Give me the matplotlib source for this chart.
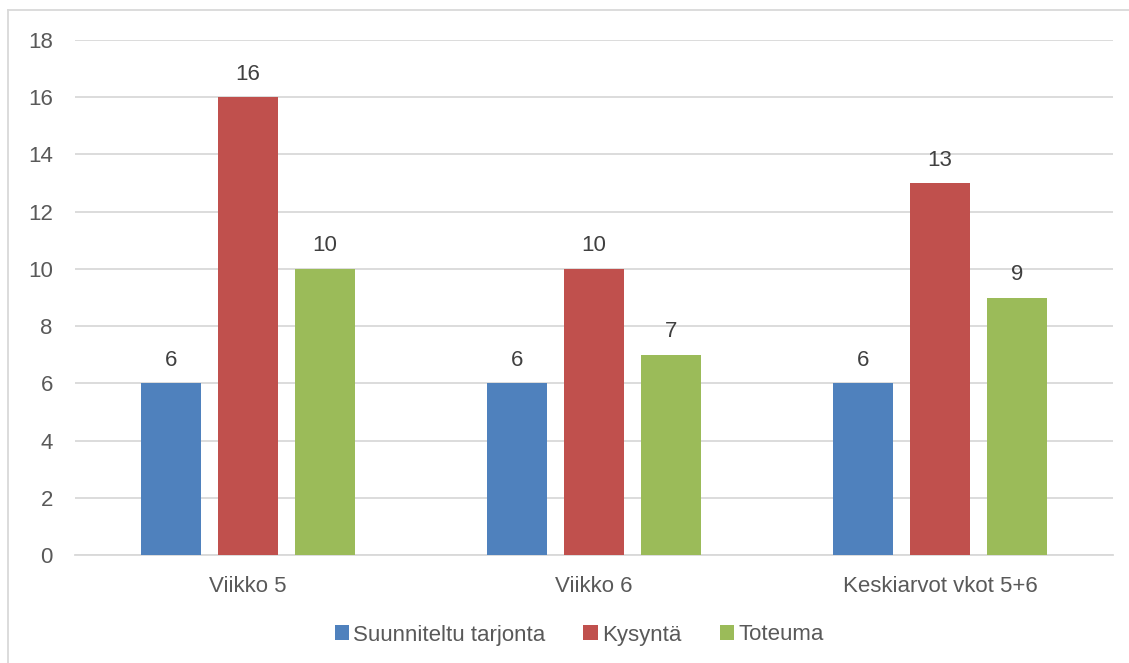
import matplotlib
matplotlib.use("Agg")
import matplotlib.pyplot as plt
from matplotlib.lines import Line2D
import numpy as np

categories = ["Viikko 5", "Viikko 6", "Keskiarvot vkot 5+6"]
series_names = ["Suunniteltu tarjonta", "Kysyntä", "Toteuma"]
suunniteltu = [6, 6, 6]
kysynta = [16, 10, 13]
toteuma = [10, 7, 9]
y_ticks = [0, 2, 4, 6, 8, 10, 12, 14, 16, 18]

colors = ["#4F81BD", "#C0504D", "#9BBB59"]
text_color = "#595959"
grid_color = "#D9D9D9"
fs = 16

plt.rcParams["font.family"] = ["Liberation Sans", "DejaVu Sans"]

fig = plt.figure(figsize=(11.29, 6.63), dpi=100)
ax = fig.add_axes([75/1129, 1-555/663, (1113-75)/1129, (555-40)/663])

x = np.arange(len(categories))
width = 0.175
offsets = [-0.2225, 0, 0.2225]
handles = []
for vals, off, col, name in zip([suunniteltu, kysynta, toteuma], offsets, colors, series_names):
    bars = ax.bar(x + off, vals, width, color=col, label=name, zorder=3)
    for b, v in zip(bars, vals):
        ax.annotate(f"{v}", (b.get_x() + b.get_width()/2, v), xytext=(0, 9),
                    textcoords="offset points", ha="center", va="bottom",
                    fontsize=fs, color="#404040")
    handles.append(bars)

ax.set_xlim(-0.5, 2.5)
ax.set_ylim(0, 18)
ax.set_yticks(y_ticks)
ax.set_xticks(x)
ax.set_xticklabels(categories)
ax.yaxis.grid(True, color=grid_color, linewidth=1.3, zorder=0)
ax.set_axisbelow(True)
for s in ["top", "right", "left"]:
    ax.spines[s].set_visible(False)
ax.spines["bottom"].set_color(grid_color)
ax.spines["bottom"].set_linewidth(1.3)
ax.tick_params(axis="both", length=0, labelsize=fs, colors=text_color)
ax.tick_params(axis="y", pad=16)
ax.tick_params(axis="x", pad=15)

fig.legend(handles, series_names, loc="center", bbox_to_anchor=(0.513, 1-635/663),
           ncol=3, frameon=False, fontsize=fs, handlelength=0.65, handleheight=0.65,
           handletextpad=0.2, columnspacing=1.7, labelcolor=text_color)

# chart area border (left and top visible)
fig.add_artist(Line2D([8/1129, 8/1129], [0, 1-10/663], transform=fig.transFigure,
                      color=grid_color, linewidth=1.3))
fig.add_artist(Line2D([8/1129, 1], [1-10/663, 1-10/663], transform=fig.transFigure,
                      color=grid_color, linewidth=1.3))

fig.savefig("out.png", dpi=100)
